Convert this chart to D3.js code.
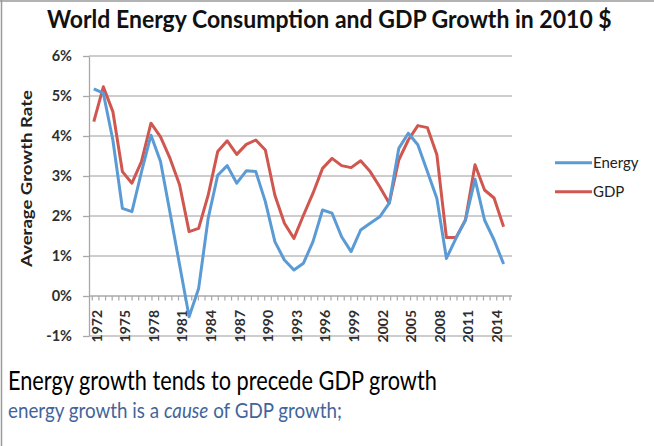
<!DOCTYPE html>
<style>
  body { margin: 0; background: #fff; }
  svg { display: block; }
  .axis text { font-family: Lato, sans-serif; font-weight: 700; fill: #2e2e2e; }
  .grid line { stroke: #bdbdbd; stroke-width: 1.3; }
</style>
<body>
</body>
<script src="https://cdn.jsdelivr.net/npm/d3@7"></script>
<script>
  const years = d3.range(1972, 2016);
  const energy = [
    5.18, 5.07, 3.9, 2.19, 2.11, 3.1, 4.02, 3.36, 2.08, 0.78,
    -0.52, 0.19, 1.94, 3.02, 3.26, 2.82, 3.13, 3.11, 2.36, 1.36,
    0.9, 0.65, 0.82, 1.36, 2.15, 2.07, 1.48, 1.11, 1.65, 1.82,
    1.98, 2.32, 3.69, 4.07, 3.78, 3.11, 2.44, 0.94, 1.44, 1.9,
    2.92, 1.9, 1.4, 0.8
  ];
  const gdp = [
    4.36, 5.23, 4.61, 3.11, 2.82, 3.36, 4.32, 3.98, 3.44, 2.78,
    1.61, 1.69, 2.52, 3.61, 3.88, 3.54, 3.79, 3.9, 3.65, 2.52,
    1.82, 1.44, 2.02, 2.57, 3.19, 3.44, 3.26, 3.21, 3.38, 3.11,
    2.73, 2.32, 3.4, 3.9, 4.26, 4.21, 3.53, 1.46, 1.46, 1.9,
    3.28, 2.65, 2.45, 1.73
  ];
  const yTicks = [-1, 0, 1, 2, 3, 4, 5, 6];
  const labelYears = d3.range(1972, 2016, 3);
  const seriesNames = ['Energy', 'GDP'];
  const colors = ['#5b9bd5', '#d0574f'];

  const W = 654, H = 446;
  const svg = d3.select('body').append('svg')
    .attr('width', W).attr('height', H);

  // frame edges of the screenshot
  svg.append('line').attr('x1', 1.5).attr('x2', 1.5).attr('y1', 0).attr('y2', H)
    .attr('stroke', '#9a9a9a').attr('stroke-width', 1.5);
  svg.append('line').attr('x1', 0).attr('x2', W).attr('y1', 1).attr('y2', 1)
    .attr('stroke', '#9a9a9a').attr('stroke-width', 1.5);

  const left = 89, right = 512;
  const x = d3.scalePoint().domain(years).range([93.8, 503.6]);
  const y = d3.scaleLinear().domain([-1, 6]).range([336, 56]);

  // narrow a text horizontally to a target width, keeping its height
  const squeeze = (sel, base, w) => {
    const len = sel.node().getComputedTextLength();
    sel.attr('transform', `${base} scale(${w / len},1)`);
    return sel;
  };

  // title
  svg.append('text')
    .attr('font-family', 'Lato, sans-serif').attr('font-weight', 700)
    .attr('font-size', 25).attr('fill', '#111')
    .text('World Energy Consumption and GDP Growth in 2010 $')
    .call(s => squeeze(s, 'translate(47,28)', 565));

  // gridlines
  svg.append('g').attr('class', 'grid')
    .selectAll('line')
    .data(yTicks.filter(d => d !== 0))
    .join('line')
    .attr('x1', left).attr('x2', right)
    .attr('y1', d => y(d)).attr('y2', d => y(d));

  // y axis
  const yAxis = svg.append('g').attr('class', 'axis')
    .attr('transform', `translate(${left},0)`)
    .call(d3.axisLeft(y).tickValues(yTicks).tickFormat(d => `${d}%`)
      .tickSize(6).tickPadding(11).tickSizeOuter(0));
  yAxis.selectAll('line, path').attr('stroke', '#a8a8a8').attr('stroke-width', 1.3);
  yAxis.selectAll('text').attr('font-size', 14.5);

  // x axis line and minor ticks
  const tickScale = d3.scaleLinear().domain([0, 63]).range([92.3, 510]);
  const xAxis = svg.append('g').attr('class', 'axis')
    .attr('transform', `translate(0,${y(0)})`);
  xAxis.append('line')
    .attr('x1', left).attr('x2', right)
    .attr('stroke', '#a8a8a8').attr('stroke-width', 1.3);
  xAxis.selectAll('.mt')
    .data(d3.range(0, 64))
    .join('line').attr('class', 'mt')
    .attr('x1', d => tickScale(d)).attr('x2', d => tickScale(d))
    .attr('y1', 0).attr('y2', 4.5)
    .attr('stroke', '#a8a8a8').attr('stroke-width', 1.2);

  // year labels
  svg.append('g').attr('class', 'axis')
    .selectAll('text')
    .data(labelYears)
    .join('text')
    .attr('transform', d => `translate(${x(d) + 3},310) rotate(-90)`)
    .attr('text-anchor', 'end')
    .attr('dy', '0.35em')
    .attr('font-size', 14)
    .text(d => d);

  // y axis title
  svg.append('text')
    .attr('text-anchor', 'middle').attr('dy', '0.35em')
    .attr('font-family', 'Lato, sans-serif').attr('font-weight', 700)
    .attr('font-size', 15).attr('fill', '#222')
    .text('Average Growth Rate')
    .call(s => squeeze(s, 'translate(27,178.5) rotate(-90)', 177));

  // series lines, GDP under Energy
  const line = d3.line()
    .x((d, i) => x(years[i]))
    .y(d => y(d));
  [gdp, energy].forEach((vals, k) => {
    svg.append('path')
      .datum(vals)
      .attr('fill', 'none')
      .attr('stroke', colors[1 - k])
      .attr('stroke-width', 3)
      .attr('stroke-linejoin', 'round')
      .attr('d', line);
  });

  // legend
  const legend = svg.append('g');
  seriesNames.forEach((name, k) => {
    const ly = 162.7 + k * 29;
    legend.append('line')
      .attr('x1', 555).attr('x2', 592).attr('y1', ly).attr('y2', ly)
      .attr('stroke', colors[k]).attr('stroke-width', 3);
    legend.append('text')
      .attr('x', 593).attr('y', ly).attr('dy', '0.35em')
      .attr('font-family', 'Lato, sans-serif').attr('font-size', 15)
      .attr('fill', '#222')
      .text(name);
  });

  // caption lines
  svg.append('text')
    .attr('font-family', 'Lato, sans-serif').attr('font-size', 26)
    .attr('fill', '#000')
    .text('Energy growth tends to precede GDP growth')
    .call(s => squeeze(s, 'translate(8,390)', 429));

  const sub = svg.append('text')
    .attr('font-family', 'Lato, sans-serif').attr('font-size', 22)
    .attr('fill', '#3f659c');
  sub.append('tspan').text('energy growth is a ');
  sub.append('tspan').attr('font-style', 'italic').text('cause');
  sub.append('tspan').text(' of GDP growth;');
  squeeze(sub, 'translate(8,418)', 334);
</script>
